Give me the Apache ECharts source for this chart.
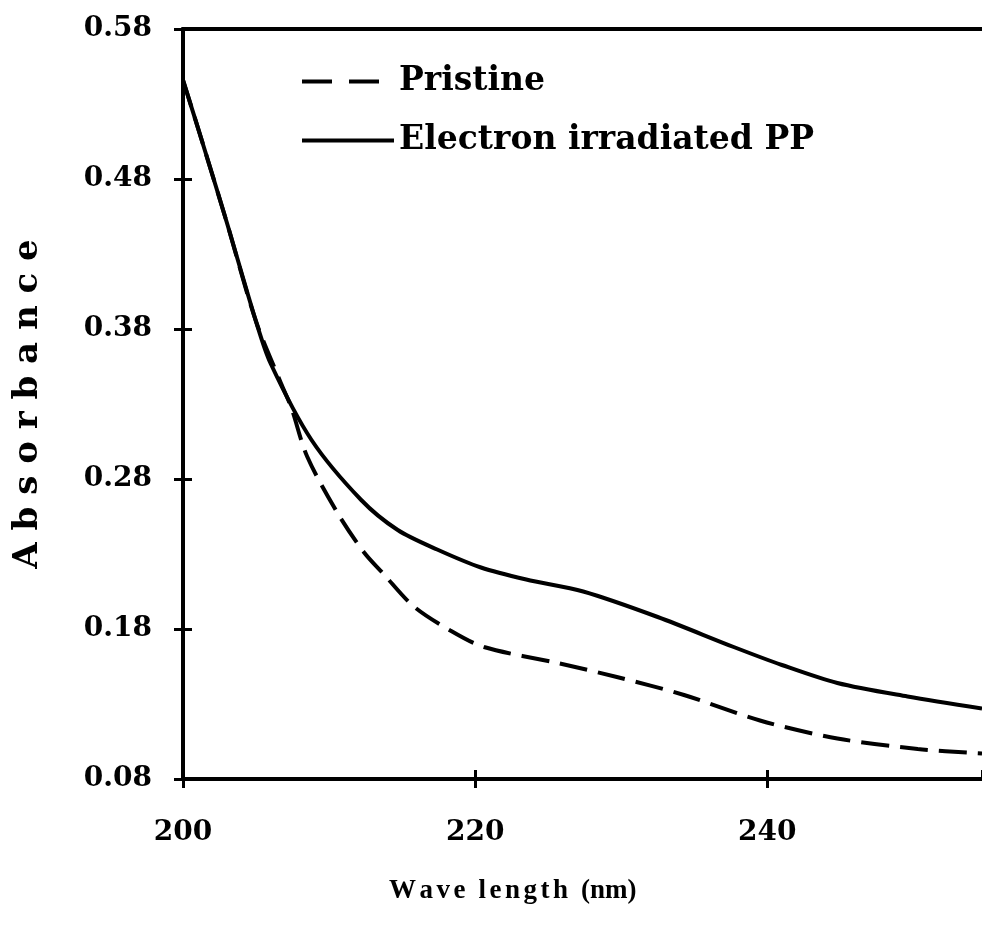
<!DOCTYPE html>
<html>
<head>
<meta charset="utf-8">
<script src="https://cdn.jsdelivr.net/npm/echarts@6/dist/echarts.min.js"></script>
<style>html,body{margin:0;padding:0;background:#fff}#c{width:982px;height:934px}</style>
</head>
<body>
<div id="c"></div>
<script>
// Data
const seriesNames = ['Pristine', 'Electron irradiated PP'];
const pristineX = [200, 201.5, 203, 205, 206.7, 207.4, 208.5, 210.6, 212.4, 213.7, 215.8, 218.3, 220.6, 225.8, 229.7, 234.3, 239.5, 244.8, 250.3, 254.7];
const pristineY = [0.546, 0.499, 0.451, 0.385, 0.344, 0.328, 0.295, 0.257, 0.231, 0.217, 0.195, 0.179, 0.168, 0.157, 0.148, 0.136, 0.119, 0.107, 0.100, 0.097];
const electronX = [200, 201.5, 203, 205, 206, 208.8, 212.2, 214.7, 217.4, 220.4, 223.5, 227.4, 232.5, 237.7, 241, 244.8, 249.6, 254.7];
const electronY = [0.546, 0.499, 0.451, 0.385, 0.357, 0.306, 0.266, 0.246, 0.233, 0.221, 0.213, 0.205, 0.188, 0.168, 0.156, 0.144, 0.135, 0.127];
const xTicks = { min: 200, max: 254.7, interval: 20 };
const yTicks = { min: 0.08, max: 0.58, interval: 0.1 };
const xTitleWords = ['Wave', 'length', '(nm)'];
const yTitle = 'A b s o r b a n c e';

const FONT = 'DejaVu Serif';
const pair = (xs, ys) => xs.map((x, i) => [x, ys[i]]);

// letter-spaced x-axis title built with rich text fragments
const spaced = (w) => w.split('').map((ch, i) =>
  '{' + (i === w.length - 1 ? 'W' : 'L') + '|' + ch + '}').join('');
const xTitleRich = spaced(xTitleWords[0]) + spaced(xTitleWords[1]) + '{L|' + xTitleWords[2] + '}';
const xTitleFont = { fontFamily: 'Liberation Serif', fontWeight: 'bold', fontSize: 27, fill: '#000' };

const chart = echarts.init(document.getElementById('c'), null, { renderer: 'canvas' });
const axisLine = { show: true, lineStyle: { color: '#000', width: 4 } };
const labelStyle = { color: '#000', fontFamily: FONT, fontWeight: 'bold', fontSize: 28 };

chart.setOption({
  animation: false,
  backgroundColor: '#fff',
  grid: { left: 183, top: 29, right: 0, bottom: 155, containLabel: false },
  legend: {
    orient: 'vertical', left: 300, top: 65, padding: 0, itemWidth: 92, itemHeight: 14, itemGap: 26,
    itemStyle: { opacity: 0 },
    data: [
      { name: seriesNames[0], lineStyle: { type: [30, 17], width: 4, color: '#000' } },
      { name: seriesNames[1], lineStyle: { type: 'solid', width: 4, color: '#000' } }
    ],
    textStyle: { color: '#000', fontFamily: FONT, fontWeight: 'bold', fontSize: 33 }
  },
  xAxis: [
    { type: 'value', position: 'bottom', min: xTicks.min, max: xTicks.max, interval: xTicks.interval,
      axisLine: axisLine, splitLine: { show: false },
      axisTick: { show: true, length: 9, lineStyle: { color: '#000', width: 3 } },
      axisLabel: Object.assign({ margin: 40, showMaxLabel: false }, labelStyle) },
    { type: 'value', position: 'bottom', min: xTicks.min, max: xTicks.max, interval: xTicks.interval,
      axisLine: axisLine, splitLine: { show: false },
      axisTick: { show: true, inside: true, length: 9, lineStyle: { color: '#000', width: 3 } },
      axisLabel: { show: false } },
    { type: 'value', position: 'top', min: xTicks.min, max: xTicks.max,
      axisLine: axisLine, splitLine: { show: false }, axisTick: { show: false }, axisLabel: { show: false } }
  ],
  yAxis: [
    { type: 'value', position: 'left', min: yTicks.min, max: yTicks.max, interval: yTicks.interval,
      axisLine: axisLine, splitLine: { show: false },
      axisTick: { show: true, length: 9, lineStyle: { color: '#000', width: 3 } },
      axisLabel: Object.assign({ margin: 31, formatter: v => v.toFixed(2) }, labelStyle),
      name: yTitle, nameLocation: 'middle', nameRotate: 90, nameGap: 138,
      nameTextStyle: { color: '#000', fontFamily: FONT, fontWeight: 'bold', fontSize: 34 } },
    { type: 'value', position: 'left', min: yTicks.min, max: yTicks.max, interval: yTicks.interval,
      axisLine: axisLine, splitLine: { show: false },
      axisTick: { show: true, inside: true, length: 9, lineStyle: { color: '#000', width: 3 } },
      axisLabel: { show: false } }
  ],
  graphic: [
    { type: 'text', left: 389, top: 878,
      style: {
        text: xTitleRich, fill: '#000', fontFamily: 'Liberation Serif', fontWeight: 'bold', fontSize: 27,
        rich: {
          L: Object.assign({ padding: [0, 3.5, 0, 0] }, xTitleFont),
          W: Object.assign({ padding: [0, 13, 0, 0] }, xTitleFont)
        }
      } }
  ],
  series: [
    { name: seriesNames[0], type: 'line', xAxisIndex: 0, yAxisIndex: 0, data: pair(pristineX, pristineY),
      smooth: 0.3, symbol: 'none', lineStyle: { color: '#000', width: 4, type: [28, 11] }, itemStyle: { color: '#000' } },
    { name: seriesNames[1], type: 'line', xAxisIndex: 0, yAxisIndex: 0, data: pair(electronX, electronY),
      smooth: 0.3, symbol: 'none', lineStyle: { color: '#000', width: 4, type: 'solid' }, itemStyle: { color: '#000' } }
  ]
});
</script>
</body>
</html>
